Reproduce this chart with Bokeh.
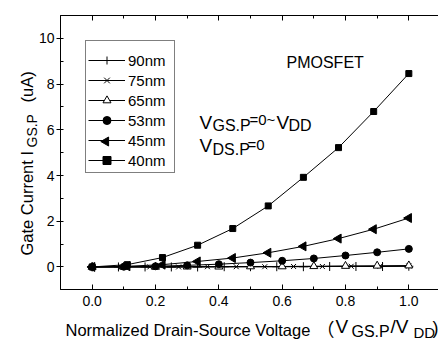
import numpy as np
from bokeh.plotting import figure
from bokeh.models import (Label, Legend, LegendItem, LinearAxis, SingleIntervalTicker,
                          PrintfTickFormatter, CustomJSTickFormatter, Range1d)
from bokeh.embed import file_html
from bokeh.resources import INLINE

# ---- data ----
x_40 = [0, 0.111, 0.222, 0.333, 0.444, 0.556, 0.667, 0.778, 0.889, 1.0]
y_40 = [0, 0.10, 0.41, 0.95, 1.68, 2.67, 3.92, 5.22, 6.80, 8.46]
x_45 = [0, 0.111, 0.222, 0.333, 0.444, 0.556, 0.667, 0.778, 0.889, 1.0]
y_45 = [0, 0.03, 0.10, 0.24, 0.39, 0.62, 0.90, 1.24, 1.65, 2.14]
x_53 = [0, 0.1, 0.2, 0.3, 0.4, 0.5, 0.6, 0.7, 0.8, 0.9, 1.0]
y_53 = [0, 0.01, 0.03, 0.07, 0.12, 0.19, 0.27, 0.37, 0.50, 0.64, 0.79]
x_65 = [0, 0.1, 0.2, 0.3, 0.4, 0.5, 0.6, 0.7, 0.8, 0.9, 1.0]
y_65 = [0, 0, 0, 0.01, 0.01, 0.02, 0.02, 0.03, 0.04, 0.05, 0.06]
x_75 = [0, 0.091, 0.182, 0.273, 0.364, 0.455, 0.545, 0.636, 0.727, 0.818, 0.909, 1.0]
y_75 = [0, 0, 0, 0, 0.01, 0.01, 0.01, 0.02, 0.02, 0.03, 0.03, 0.04]
x_90 = [0, 0.083, 0.167, 0.25, 0.333, 0.417, 0.5, 0.583, 0.667, 0.75, 0.833, 0.917, 1.0]
y_90 = [0, 0, 0, 0, 0, 0.01, 0.01, 0.01, 0.01, 0.02, 0.02, 0.02, 0.03]

labels = ["90nm", "75nm", "65nm", "53nm", "45nm", "40nm"]

X_MIN, X_MAX = -0.1, 1.0937     # visible axis extent (right side cropped)
Y_MIN, Y_MAX = -1, 11

FONT = "Liberation Sans"
W, H = 438, 341
# pixel placement of the axes box inside the canvas
BOX_L, BOX_T, BOX_B = 60, 15, 289.3
sx_per = (W - BOX_L) / (X_MAX - X_MIN)
sy_per = (BOX_B - BOX_T) / (Y_MAX - Y_MIN)
xr = Range1d(X_MIN - BOX_L / sx_per, X_MAX)
yr = Range1d(Y_MIN - (H - BOX_B) / sy_per, Y_MAX + BOX_T / sy_per)


def to_data(px, py):
    return X_MIN + (px - BOX_L) / sx_per, Y_MAX - (py - BOX_T) / sy_per


p = figure(width=W, height=H, x_range=xr, y_range=yr,
           x_axis_type=None, y_axis_type=None,
           output_backend="svg", toolbar_location=None, min_border=0)
p.xgrid.visible = False
p.ygrid.visible = False
p.outline_line_color = None
p.background_fill_color = "white"
p.border_fill_color = "white"

xt = SingleIntervalTicker(interval=0.2, num_minor_ticks=2)
yt = SingleIntervalTicker(interval=2, num_minor_ticks=2)


def style(ax):
    ax.axis_line_color = "black"
    ax.major_tick_line_color = "black"
    ax.minor_tick_line_color = "black"
    ax.major_label_text_font = FONT
    ax.major_label_text_font_size = "14px"
    ax.major_label_text_color = "black"


bottom = LinearAxis(ticker=xt, formatter=PrintfTickFormatter(format="%.1f"),
                    fixed_location=Y_MIN, bounds=(X_MIN, X_MAX),
                    major_tick_in=5, major_tick_out=0, minor_tick_in=3, minor_tick_out=0,
                    major_label_standoff=6)
style(bottom)
p.add_layout(bottom, "below")

left = LinearAxis(ticker=yt, formatter=PrintfTickFormatter(format="%d"),
                  fixed_location=X_MIN, bounds=(Y_MIN, Y_MAX),
                  major_tick_in=0, major_tick_out=4, minor_tick_in=3, minor_tick_out=0,
                  major_label_standoff=2)
style(left)
p.add_layout(left, "left")

top = LinearAxis(ticker=xt, formatter=CustomJSTickFormatter(code="return ''"),
                 fixed_location=Y_MAX, bounds=(X_MIN, X_MAX),
                 major_label_standoff=0,
                 major_tick_in=5, major_tick_out=0, minor_tick_in=3, minor_tick_out=0)
style(top)
top.major_label_text_font_size = "0px"
p.add_layout(top, "above")

series = [
    (x_90, y_90, dict(marker="cross", size=9, fill_color="black")),
    (x_75, y_75, dict(marker="x", size=7, fill_color="black")),
    (x_65, y_65, dict(marker="triangle", size=8, fill_color="white")),
    (x_53, y_53, dict(marker="circle", size=7, fill_color="black")),
    (x_45, y_45, dict(marker="triangle", size=9, fill_color="black", angle=np.pi / 2)),
    (x_40, y_40, dict(marker="square", size=6, fill_color="black")),
]

items = []
for (xs, ys, mk), lab_text in zip(series, labels):
    rl = p.line(xs, ys, line_color="black", line_width=1)
    rs = p.scatter(xs, ys, line_color="black", line_width=1, **mk)
    # the legend cannot rotate markers: the 45nm symbol is drawn separately below
    rends = [rl] if lab_text == "45nm" else [rl, rs]
    items.append(LegendItem(label=lab_text, renderers=rends))

# legend box: left 85, top ~41, bottom ~172 (page px)
LEG_L, LEG_TOP, LEG_PAD, GLYPH_W, ROW, TITLE_H = 85, 41, 2, 37, 20, 8
LEG_H = 2 * LEG_PAD + TITLE_H + 6 * ROW
legend = Legend(items=items, location=(LEG_L, H - (LEG_TOP + LEG_H)), orientation="vertical",
                title=" ", title_text_font_size="6px", title_standoff=1,
                border_line_color="black", border_line_width=1,
                background_fill_alpha=0,
                label_text_font=FONT, label_text_font_size="15px",
                label_text_color="black",
                glyph_width=GLYPH_W, glyph_height=ROW, label_height=ROW, label_width=44,
                label_standoff=3, padding=LEG_PAD, spacing=0, margin=0)
p.add_layout(legend)

# left-pointing triangle symbol of the 45nm legend entry
lx, ly = to_data(LEG_L + LEG_PAD + GLYPH_W / 2, LEG_TOP + LEG_PAD + TITLE_H + 4.5 * ROW)
sym = p.scatter([lx], [ly], marker="triangle", size=9, angle=np.pi / 2,
                fill_color="black", line_color="black")
sym.level = "overlay"


def lab(text, px, py_base, size, font=FONT, rot=False, data=False):
    """Place text whose baseline starts at page pixel (px, py_base).
    For rotated text px is the baseline x and py_base the start y."""
    if rot:
        sx, sy = px - 0.35 * size, H - py_base
    else:
        sx, sy = px, H - (py_base - 0.35 * size)
    kw = dict(x_units="screen", y_units="screen")
    x, y = sx, sy
    if data:
        x, y = to_data(sx, H - sy)
        kw = dict(x_units="data", y_units="data")
    p.add_layout(Label(x=x, y=y, text=text, text_font=font,
                       text_font_size=f"{size}px", text_color="black",
                       text_baseline="middle", text_align="left",
                       angle=np.pi / 2 if rot else 0.0, **kw))


# in-plot annotations
lab("PMOSFET", 286, 67.5, 16, data=True)
lab("V", 199, 128.3, 19, data=True)
lab("GS.P", 212, 130.5, 16, data=True)
lab("=0~", 249, 124, 15, data=True)
lab("V", 276, 128.3, 19, data=True)
lab("DD", 288, 130.5, 16, data=True)
lab("V", 199, 151.7, 19, data=True)
lab("DS.P", 212, 155, 16, data=True)
lab("=0", 247, 149.5, 15, data=True)

# x axis title
lab("Normalized Drain-Source Voltage", 65, 335, 16.5)
lab("（", 316, 334, 18, font="Noto Sans CJK SC")
lab("V", 335, 333, 19)
lab("GS.P", 351, 337, 16)
lab("/V", 390, 333, 19)
lab("DD", 413, 337, 15)
lab(")", 432, 334, 18)

# y axis title (rotated, reads bottom to top)
lab("Gate Current I", 32, 255, 16.5, rot=True)
lab("GS.P", 36, 147, 14, rot=True)
lab("(uA)", 32, 102, 16.5, rot=True)

open("out.html", "w").write(file_html(p, INLINE))
